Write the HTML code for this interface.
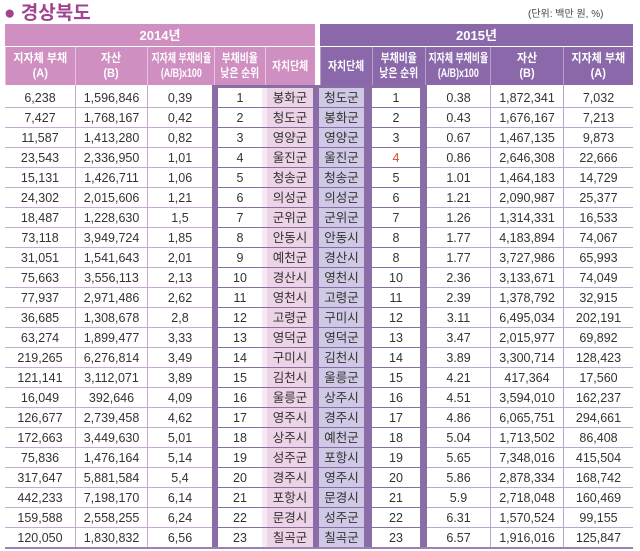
<!DOCTYPE html>
<html><head><meta charset="utf-8">
<style>
body{margin:0;width:640px;height:551px;background:#fff;overflow:hidden;position:relative;font-family:"Liberation Sans","Noto Sans CJK KR",sans-serif;}
.a{position:absolute;box-sizing:border-box;}
.t{display:flex;align-items:center;justify-content:center;text-align:center;font-size:12.5px;color:#333;line-height:14px;white-space:nowrap;}
.h{color:#fff;font-weight:bold;font-size:12px;line-height:15px;overflow:visible;}
.h span{display:inline-block;transform-origin:center;}
</style></head><body>
<div class="a" style="left:4px;top:-2px;font-size:19px;font-weight:bold;color:#a2438f;font-family:'Liberation Sans','Noto Sans CJK KR',sans-serif;">● 경상북도</div>
<div class="a" style="left:528px;top:5px;font-size:10px;color:#444;">(단위: 백만 원, %)</div>
<div id="tbl"></div>
<script>
const left2014Debt=["6,238","7,427","11,587","23,543","15,131","24,302","18,487","73,118","31,051","75,663","77,937","36,685","63,274","219,265","121,141","16,049","126,677","172,663","75,836","317,647","442,233","159,588","120,050"];
const left2014Asset=["1,596,846","1,768,167","1,413,280","2,336,950","1,426,711","2,015,606","1,228,630","3,949,724","1,541,643","3,556,113","2,971,486","1,308,678","1,899,477","6,276,814","3,112,071","392,646","2,739,458","3,449,630","1,476,164","5,881,584","7,198,170","2,558,255","1,830,832"];
const left2014Ratio=["0,39","0,42","0,82","1,01","1,06","1,21","1,5","1,85","2,01","2,13","2,62","2,8","3,33","3,49","3,89","4,09","4,62","5,01","5,14","5,4","6,14","6,24","6,56"];
const names2014=["봉화군","청도군","영양군","울진군","청송군","의성군","군위군","안동시","예천군","경산시","영천시","고령군","영덕군","구미시","김천시","울릉군","영주시","상주시","성주군","경주시","포항시","문경시","칠곡군"];
const names2015=["청도군","봉화군","영양군","울진군","청송군","의성군","군위군","안동시","경산시","영천시","고령군","구미시","영덕군","김천시","울릉군","상주시","경주시","예천군","포항시","영주시","문경시","성주군","칠곡군"];
const rank2015=["1","2","3","4","5","6","7","8","8","10","11","12","13","14","15","16","17","18","19","20","21","22","23"];
const ratio2015=["0.38","0.43","0.67","0.86","1.01","1.21","1.26","1.77","1.77","2.36","2.39","3.11","3.47","3.89","4.21","4.51","4.86","5.04","5.65","5.86","5.9","6.31","6.57"];
const asset2015=["1,872,341","1,676,167","1,467,135","2,646,308","1,464,183","2,090,987","1,314,331","4,183,894","3,727,986","3,133,671","1,378,792","6,495,034","2,015,977","3,300,714","417,364","3,594,010","6,065,751","1,713,502","7,348,016","2,878,334","2,718,048","1,570,524","1,916,016"];
const debt2015=["7,032","7,213","9,873","22,666","14,729","25,377","16,533","74,067","65,993","74,049","32,915","202,191","69,892","128,423","17,560","162,237","294,661","86,408","415,504","168,742","160,469","99,155","125,847"];

const T=document.getElementById('tbl');
function box(x,y,w,h,bg,txt,cls,extra){const d=document.createElement('div');d.className='a '+(cls||'');d.style.left=x+'px';d.style.top=y+'px';d.style.width=w+'px';d.style.height=h+'px';if(bg)d.style.background=bg;if(txt!==undefined)d.innerHTML=txt;if(extra)d.style.cssText+=extra;T.appendChild(d);return d;}
let e;
e=box(5,24,310,22,'#cf8fc0','2014년','t h','font-size:13px;');


e=box(320,24,313,22,'#8a68aa','2015년','t h','font-size:13px;');


const lh=[[5,75,'지자체 부채<br>(A)',0.92],[75,147,'자산<br>(B)',0.92],[147,214,'지자체 부채비율<br>(A/B)x100',0.74],[214,265,'부채비율<br>낮은 순위',0.82],[265,315,'자치단체',0.82]];
const rh=[[320,372,'자치단체',0.82],[372,425,'부채비율<br>낮은 순위',0.82],[425,490,'지자체 부채비율<br>(A/B)x100',0.74],[490,563,'자산<br>(B)',0.92],[563,633,'지자체 부채<br>(A)',0.92]];
lh.forEach(c=>{e=box(c[0],47,c[1]-c[0],38,'#cf8fc0','<span style="transform:scaleX('+c[3]+')">'+c[2]+'</span>','t h','border-left:1px solid #e6c2dc;');

});
rh.forEach(c=>{e=box(c[0],47,c[1]-c[0],38,'#8a68aa','<span style="transform:scaleX('+c[3]+')">'+c[2]+'</span>','t h','border-left:1px solid #b5a0cb;');

});
const top0=87,rh0=20;
box(212,85,215,top0+23*rh0-85+1,'#8a6ca6');
box(5,85,207,top0+23*rh0-85+1,'#fff');
box(427,85,206,top0+23*rh0-85+1,'#fff');
for(let i=0;i<23;i++){
  const y=top0+i*rh0;
  const mk=(x,w,bg,txt,name,col)=>{const d=box(x,y+1,w,rh0-1,bg,txt,'t',col?'color:'+col:'');
  
  return d;};
  mk(5,70,'#fff',left2014Debt[i],'debt-2014');
  mk(76,71,'#fff',left2014Asset[i],'asset-2014');
  mk(148,64,'#fff',left2014Ratio[i],'ratio-2014');
  mk(218,44,'#fff',String(i+1),'rank-2014');
  mk(262,5,'#f3eaf3','', 'gap');
  mk(267,46,'#ecd3e6',names2014[i],'region-2014');
  mk(319,45,'#cfc9e5',names2015[i],'region-2015');
  mk(372,48,'#fff',rank2015[i],'rank-2015',i===3?'#c8542a':null);
  mk(427,63,'#fff',ratio2015[i],'ratio-2015');
  mk(491,72,'#fff',asset2015[i],'asset-2015');
  mk(564,69,'#fff',debt2015[i],'debt-2015');
  box(5,y+rh0,207,1,'#c5a9cf');
  box(427,y+rh0,206,1,'#b9a7cf');
}
box(75,85,1,23*rh0+2,'#c5a9cf');
box(147,85,1,23*rh0+2,'#c5a9cf');
box(490,85,1,23*rh0+2,'#b9a7cf');
box(563,85,1,23*rh0+2,'#b9a7cf');
box(5,top0+23*rh0,628,2,'#9a82b5');
</script>
</body></html>
